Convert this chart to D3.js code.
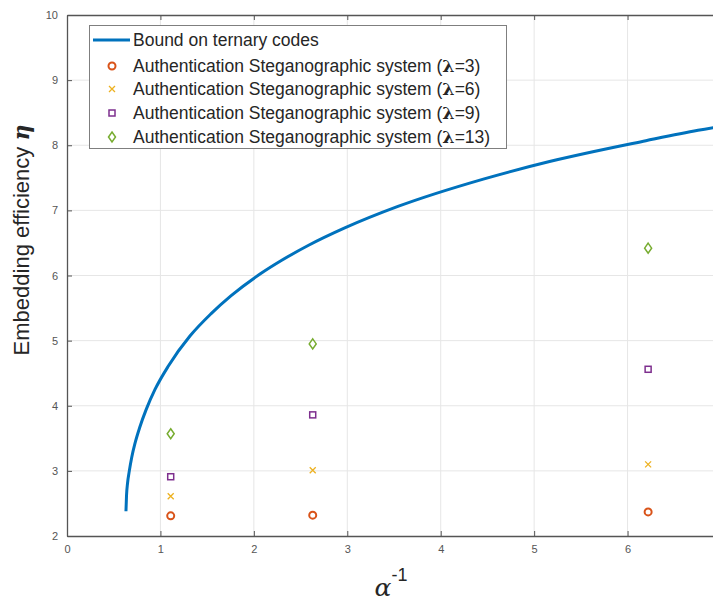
<!DOCTYPE html>
<html>
<head>
<meta charset="utf-8">
<script src="https://cdn.jsdelivr.net/npm/d3@7"></script>
<style>
  body { margin: 0; background: #fff; }
  text { font-family: "Liberation Sans", Arial, sans-serif; }
</style>
</head>
<body>
<script>
// bound curve (x = 1/alpha, y = efficiency)
const boundX = [0.631, 0.637, 0.648, 0.667, 0.693, 0.729, 0.779, 0.847, 0.942, 1.085, 1.316, 1.54, 1.757, 2.074, 2.294, 2.581, 2.973, 3.542, 4.456, 5.165, 6.196, 6.754, 7.08];
const boundY = [2.38, 2.62, 2.81, 3.00, 3.21, 3.43, 3.67, 3.94, 4.25, 4.61, 5.07, 5.41, 5.69, 6.03, 6.23, 6.46, 6.73, 7.06, 7.48, 7.75, 8.07, 8.23, 8.31];

// system points
const alphaInv = [1.11, 2.63, 6.22];
const lambda3 = [2.31, 2.32, 2.37];
const lambda6 = [2.61, 3.01, 3.10];
const lambda9 = [2.91, 3.86, 4.56];
const lambda13 = [3.57, 4.95, 6.42];

const xTicks = [0, 1, 2, 3, 4, 5, 6, 7];
const yTicks = [2, 3, 4, 5, 6, 7, 8, 9, 10];

const width = 713;
const height = 601;
const mLeft = 67, mTop = 15, mBottom = 536;

const x = d3.scaleLinear().domain([0, 7]).range([mLeft, 721]);
const y = d3.scaleLinear().domain([2, 10]).range([mBottom, mTop]);

const svg = d3.select('body').append('svg')
  .attr('width', width)
  .attr('height', height);

// grid
svg.append('g').selectAll('line').data(xTicks.slice(1)).join('line')
  .attr('x1', (d) => x(d)).attr('x2', (d) => x(d))
  .attr('y1', mTop).attr('y2', mBottom)
  .attr('stroke', '#e6e6e6').attr('stroke-width', 1);
svg.append('g').selectAll('line').data(yTicks.slice(1, -1)).join('line')
  .attr('x1', mLeft).attr('x2', 721)
  .attr('y1', (d) => y(d)).attr('y2', (d) => y(d))
  .attr('stroke', '#e6e6e6').attr('stroke-width', 1);

// axes, matlab style ticks inside
const axisColor = '#555';
const xAxis = svg.append('g').attr('transform', `translate(0,${mBottom})`)
  .call(d3.axisBottom(x).tickValues(xTicks.slice(0, -1)).tickFormat(d3.format('d'))
    .tickSizeInner(-5).tickSizeOuter(0).tickPadding(9));
const xTop = svg.append('g').attr('transform', `translate(0,${mTop})`)
  .call(d3.axisTop(x).tickValues(xTicks).tickSizeInner(-5).tickSizeOuter(0).tickFormat(''));
const yAxis = svg.append('g').attr('transform', `translate(${mLeft},0)`)
  .call(d3.axisLeft(y).tickValues(yTicks).tickFormat(d3.format('d'))
    .tickSizeInner(-5).tickSizeOuter(0).tickPadding(9));

[xAxis, xTop, yAxis].forEach((g) => {
  g.select('.domain').attr('stroke', axisColor).attr('stroke-width', 1.3);
  g.selectAll('.tick line').attr('stroke', axisColor);
  g.selectAll('.tick text').attr('fill', '#555').attr('font-size', 11)
    .attr('font-family', '"Liberation Sans", Arial, sans-serif');
});

// bound curve
const boundPts = boundX.map((d, i) => [d, boundY[i]]);
svg.append('path')
  .datum(boundPts)
  .attr('fill', 'none')
  .attr('stroke', '#0072BD')
  .attr('stroke-width', 3)
  .attr('d', d3.line().x((d) => x(d[0])).y((d) => y(d[1])).curve(d3.curveMonotoneX));

// markers
const series = [
  { vals: lambda3, color: '#D95319', shape: 'circle', label: '3' },
  { vals: lambda6, color: '#EDB120', shape: 'cross', label: '6' },
  { vals: lambda9, color: '#7E2F8E', shape: 'square', label: '9' },
  { vals: lambda13, color: '#77AC30', shape: 'diamond', label: '13' },
];

function marker(g, shape, color, cx, cy) {
  if (shape === 'circle') {
    g.append('circle').attr('cx', cx).attr('cy', cy).attr('r', 3.5)
      .attr('fill', 'none').attr('stroke', color).attr('stroke-width', 2);
  } else if (shape === 'cross') {
    const s = 3;
    g.append('path').attr('d', `M${cx - s},${cy - s}L${cx + s},${cy + s}M${cx - s},${cy + s}L${cx + s},${cy - s}`)
      .attr('stroke', color).attr('stroke-width', 1.3);
  } else if (shape === 'square') {
    g.append('rect').attr('x', cx - 3).attr('y', cy - 3).attr('width', 6).attr('height', 6)
      .attr('fill', 'none').attr('stroke', color).attr('stroke-width', 1.5);
  } else {
    g.append('path').attr('d', `M${cx},${cy - 5}L${cx + 3.5},${cy}L${cx},${cy + 5}L${cx - 3.5},${cy}Z`)
      .attr('fill', 'none').attr('stroke', color).attr('stroke-width', 1.5);
  }
}

const pts = svg.append('g');
series.forEach((s) => {
  s.vals.forEach((v, i) => marker(pts, s.shape, s.color, x(alphaInv[i]), y(v)));
});

// legend
const lg = svg.append('g');
lg.append('rect').attr('x', 89.5).attr('y', 25.5).attr('width', 417).attr('height', 123)
  .attr('fill', '#fff').attr('stroke', '#7f7f7f').attr('stroke-width', 1);
const rowY = [40, 66, 89, 113, 137];
const fs = 17.5;
lg.append('line').attr('x1', 93).attr('x2', 130).attr('y1', rowY[0]).attr('y2', rowY[0])
  .attr('stroke', '#0072BD').attr('stroke-width', 3);
lg.append('text').attr('x', 133).attr('y', rowY[0] + 6).attr('font-size', fs).attr('fill', '#262626')
  .text('Bound on ternary codes');
series.forEach((s, i) => {
  const ry = rowY[i + 1];
  marker(lg, s.shape, s.color, 112, ry);
  const t = lg.append('text').attr('x', 133).attr('y', ry + 6).attr('font-size', fs).attr('fill', '#262626');
  t.append('tspan').text('Authentication Steganographic system (');
  t.append('tspan').attr('font-weight', 'bold').attr('font-family', '"DejaVu Serif", serif').text('λ');
  t.append('tspan').text(`=${s.label})`);
});

// axis labels
const xl = svg.append('text').attr('x', 391).attr('y', 596).attr('text-anchor', 'middle')
  .attr('font-size', 25).attr('fill', '#262626');
xl.append('tspan').attr('font-style', 'italic').attr('font-family', '"DejaVu Serif", serif').text('α');
xl.append('tspan').attr('dy', -15).attr('font-size', 18).text('-1');

const yl = svg.append('text')
  .attr('transform', 'translate(29,240) rotate(-90)')
  .attr('text-anchor', 'middle').attr('font-size', 22).attr('fill', '#262626');
yl.append('tspan').text('Embedding efficiency ');
yl.append('tspan').attr('font-style', 'italic').attr('font-weight', 'bold')
  .attr('font-family', '"DejaVu Serif", serif').text('η');
</script>
</body>
</html>
